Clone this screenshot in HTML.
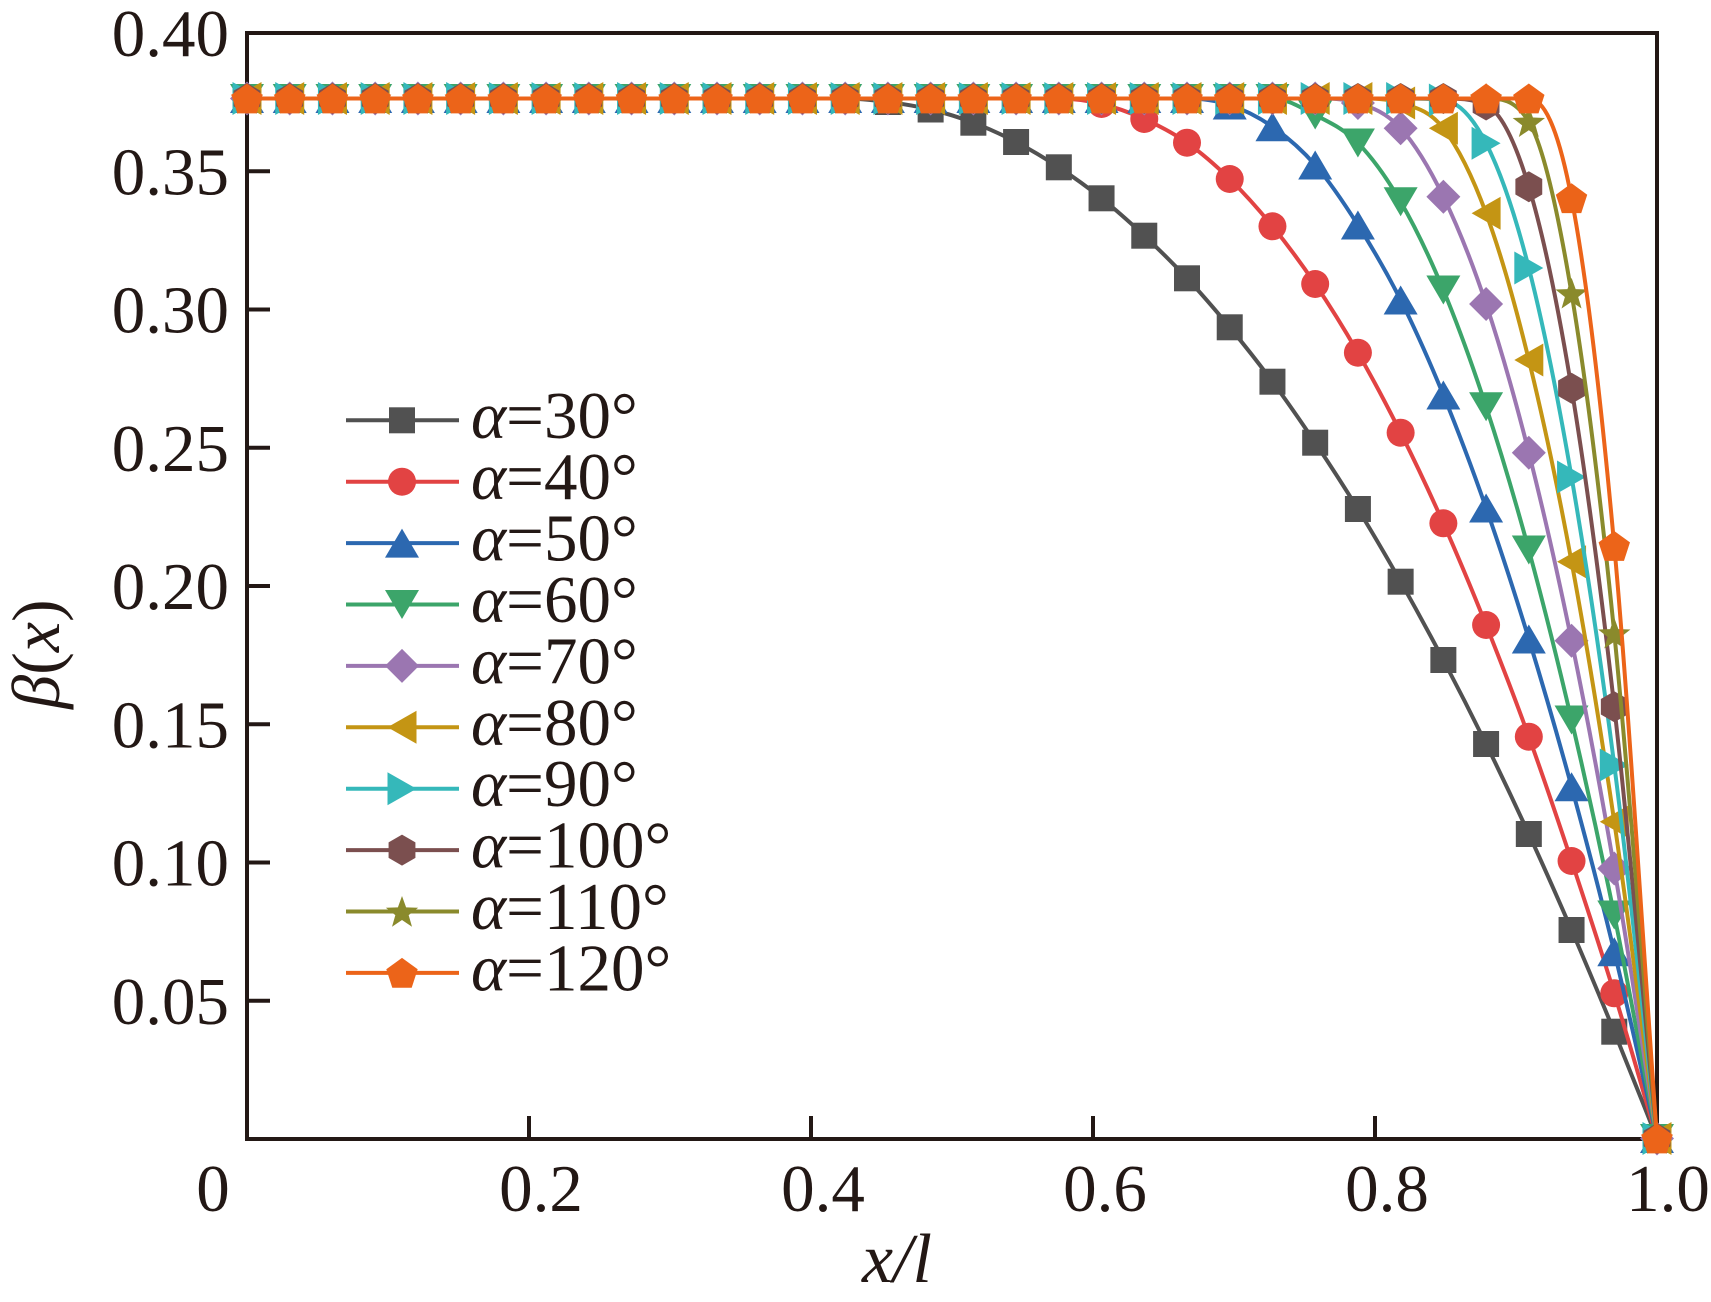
<!DOCTYPE html>
<html>
<head>
<meta charset="utf-8">
<style>
html,body{margin:0;padding:0;background:#fff;}
svg{display:block;}
text{font-family:"Liberation Serif","Times New Roman",serif;fill:#231815;}
</style>
</head>
<body>
<svg id="s" width="1711" height="1302" viewBox="0 0 1711 1302" xmlns="http://www.w3.org/2000/svg">
<rect width="1711" height="1302" fill="#fff"/>
<!-- axes -->
<g stroke="#231815" stroke-width="4" fill="none">
  <rect x="247" y="33" width="1410" height="1106"/>
  <line x1="247" y1="171.25" x2="270" y2="171.25"/>
  <line x1="247" y1="309.5" x2="270" y2="309.5"/>
  <line x1="247" y1="447.75" x2="270" y2="447.75"/>
  <line x1="247" y1="586" x2="270" y2="586"/>
  <line x1="247" y1="724.25" x2="270" y2="724.25"/>
  <line x1="247" y1="862.5" x2="270" y2="862.5"/>
  <line x1="247" y1="1000.75" x2="270" y2="1000.75"/>
  <line x1="529" y1="1139" x2="529" y2="1116"/>
  <line x1="811" y1="1139" x2="811" y2="1116"/>
  <line x1="1093" y1="1139" x2="1093" y2="1116"/>
  <line x1="1375" y1="1139" x2="1375" y2="1116"/>
</g>
<!-- y tick labels -->
<g font-size="67" text-anchor="end">
  <text x="229" y="56">0.40</text>
  <text x="229" y="194.25">0.35</text>
  <text x="229" y="332.5">0.30</text>
  <text x="229" y="470.75">0.25</text>
  <text x="229" y="609">0.20</text>
  <text x="229" y="747.25">0.15</text>
  <text x="229" y="885.5">0.10</text>
  <text x="229" y="1023.75">0.05</text>
</g>
<!-- x tick labels -->
<g font-size="67" text-anchor="middle">
  <text x="213" y="1211">0</text>
  <text x="541" y="1211">0.2</text>
  <text x="823" y="1211">0.4</text>
  <text x="1105" y="1211">0.6</text>
  <text x="1387" y="1211">0.8</text>
  <text x="1668" y="1211">1.0</text>
</g>
<!-- axis titles -->
<text x="897" y="1282" font-size="70" text-anchor="middle" font-style="italic">x/l</text>
<text transform="translate(59,654) rotate(-90)" font-size="68" text-anchor="middle"><tspan font-style="italic">β</tspan>(<tspan font-style="italic">x</tspan>)</text>

<g id="plot"></g>
<g id="leg"></g>

<!-- legend text -->
<g font-size="67">
  <text x="471" y="437.8"><tspan font-style="italic">α</tspan>=30°</text>
  <text x="471" y="499.2"><tspan font-style="italic">α</tspan>=40°</text>
  <text x="471" y="560.6"><tspan font-style="italic">α</tspan>=50°</text>
  <text x="471" y="622"><tspan font-style="italic">α</tspan>=60°</text>
  <text x="471" y="683.4"><tspan font-style="italic">α</tspan>=70°</text>
  <text x="471" y="744.8"><tspan font-style="italic">α</tspan>=80°</text>
  <text x="471" y="806.2"><tspan font-style="italic">α</tspan>=90°</text>
  <text x="471" y="867.6"><tspan font-style="italic">α</tspan>=100°</text>
  <text x="471" y="929"><tspan font-style="italic">α</tspan>=110°</text>
  <text x="471" y="990.4"><tspan font-style="italic">α</tspan>=120°</text>
</g>
</svg>
<script>
(function(){
  var NS="http://www.w3.org/2000/svg";
  var X0=247, DX=(1657-247)/33, F=98.5;
  function mk(k, tail){var a=[];for(var i=0;i<k;i++)a.push(F);return a.concat(tail);}
  var S=[
    {c:'#515151',m:'sq',y:mk(15,[102,109.5,122.7,142,167.3,198.3,235.7,278.3,327.3,381.7,442.7,509,581.7,660,744,834,930,1031.7,1138.5])},
    {c:'#E24343',m:'ci',y:mk(20,[104,119,142.7,179,226.3,284,352.7,432.7,523.3,625,736.7,861,993.3,1138.5])},
    {c:'#2C68B0',m:'tu',y:mk(23,[105,126.7,165,225,300,395,508,639,786.7,951.7,1138.5])},
    {c:'#3CA56A',m:'td',y:mk(25,[115,143,201.7,290,406.7,550,720,915,1138.5])},
    {c:'#9B76B1',m:'di',y:mk(26,[103,128.3,196.7,304,452.7,640.7,868.5,1138.5])},
    {c:'#C49514',m:'tl',y:mk(27,[103,128.3,213.3,360,561.7,821.7,1138.5])},
    {c:'#35B8BA',m:'tr',y:mk(28,[100,143.3,268,477,765,1138.5])},
    {c:'#7B4F4F',m:'hx',y:mk(29,[105,186.7,388.3,706.7,1138.5])},
    {c:'#8A8A2C',m:'st',y:mk(30,[121.7,293.3,633.3,1138.5])},
    {c:'#EC6419',m:'pe',y:mk(31,[198.3,546,1138.5])}
  ];
  function reg(n,r,start,dy){var a=[];for(var k=0;k<n;k++){var t=(start+360*k/n)*Math.PI/180;a.push([r*Math.cos(t),r*Math.sin(t)+(dy||0)]);}return a;}
  function star(R,r){var a=[];for(var k=0;k<10;k++){var rr=k%2?r:R;var t=(-90+36*k)*Math.PI/180;a.push([rr*Math.cos(t),rr*Math.sin(t)+1.5]);}return a;}
  var SH={
    tu:[[0,-14.5],[17,14.5],[-17,14.5]],
    td:[[0,14.5],[17,-14.5],[-17,-14.5]],
    di:[[0,-17],[17,0],[0,17],[-17,0]],
    tl:[[-14.5,0],[14.5,-16.5],[14.5,16.5]],
    tr:[[14.5,0],[-14.5,-16.5],[-14.5,16.5]],
    hx:reg(6,15.5,-90,0),
    st:star(17,7),
    pe:reg(5,16.5,-90,1.5)
  };
  function el(tag,attrs,parent){var e=document.createElementNS(NS,tag);for(var k in attrs)e.setAttribute(k,attrs[k]);parent.appendChild(e);return e;}
  function marker(g,type,x,y,c){
    if(type==='sq'){el('rect',{x:x-13,y:y-13,width:26,height:26,fill:c},g);}
    else if(type==='ci'){el('circle',{cx:x,cy:y,r:14,fill:c},g);}
    else{var p=SH[type].map(function(q){return (x+q[0]).toFixed(2)+','+(y+q[1]).toFixed(2);}).join(' ');el('polygon',{points:p,fill:c},g);}
  }
  function pathD(ys){
    var n=ys.length,d=[],m=[],i;
    for(i=0;i<n-1;i++)d.push((ys[i+1]-ys[i])/DX);
    m[0]=d[0];m[n-1]=d[n-2];
    for(i=1;i<n-1;i++){ if(d[i-1]*d[i]<=0)m[i]=0; else m[i]=(d[i-1]+d[i])/2; }
    for(i=0;i<n-1;i++){
      if(d[i]===0){m[i]=0;m[i+1]=0;continue;}
      var a=m[i]/d[i],b=m[i+1]/d[i],s=a*a+b*b;
      if(s>9){var t=3/Math.sqrt(s);m[i]=t*a*d[i];m[i+1]=t*b*d[i];}
    }
    var str='M'+X0.toFixed(2)+' '+ys[0].toFixed(2);
    for(i=0;i<n-1;i++){
      var x0=X0+DX*i,x1=X0+DX*(i+1);
      str+=' C'+(x0+DX/3).toFixed(2)+' '+(ys[i]+m[i]*DX/3).toFixed(2)+' '+(x1-DX/3).toFixed(2)+' '+(ys[i+1]-m[i+1]*DX/3).toFixed(2)+' '+x1.toFixed(2)+' '+ys[i+1].toFixed(2);
    }
    return str;
  }
  var plot=document.getElementById('plot');
  S.forEach(function(s){
    var g=el('g',{},plot);
    el('path',{d:pathD(s.y),fill:'none',stroke:s.c,'stroke-width':4,'stroke-linejoin':'round'},g);
    for(var i=0;i<s.y.length;i++)marker(g,s.m,X0+DX*i,s.y[i],s.c);
  });
  var leg=document.getElementById('leg');
  S.forEach(function(s,k){
    var y=420.3+61.4*k;
    el('line',{x1:346,y1:y,x2:459,y2:y,stroke:s.c,'stroke-width':4},leg);
    marker(leg,s.m,402,y,s.c);
  });
})();
</script>
</body>
</html>
